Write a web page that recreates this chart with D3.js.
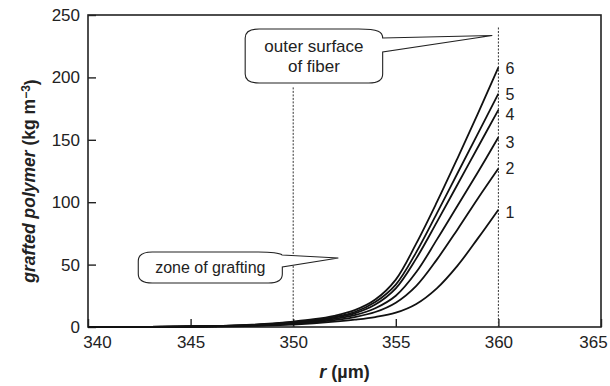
<!DOCTYPE html>
<html>
<head>
<meta charset="utf-8">
<script src="https://cdn.jsdelivr.net/npm/d3@7"></script>
<style>
  body { margin: 0; background: #fff; }
  text { font-family: "Liberation Sans", Arial, sans-serif; fill: #222; }
</style>
</head>
<body>
<div id="chart"></div>
<script>
// data
var rVals = [340, 343, 345, 347, 348, 349, 350, 351, 352, 353, 354, 355, 356, 357, 358, 359, 360];
var curve1 = [0, 0.1, 0.3, 0.6, 0.9, 1.3, 2.0, 3.0, 4.3, 5.9, 8.0, 11.5, 18.5, 31, 49, 71, 94];
var curve2 = [0, 0.1, 0.3, 0.7, 1.1, 1.7, 2.6, 3.8, 5.5, 8.0, 12, 19.5, 33, 54, 78, 103, 127];
var curve3 = [0, 0.1, 0.4, 0.9, 1.3, 2.0, 3.0, 4.4, 6.5, 9.5, 15, 25, 44, 70, 97, 124, 152];
var curve4 = [0, 0.1, 0.4, 1.0, 1.5, 2.3, 3.5, 5.0, 7.5, 11, 18, 31, 55, 84, 114, 144, 174];
var curve5 = [0, 0.1, 0.4, 1.0, 1.6, 2.5, 3.8, 5.5, 8.0, 12, 20, 34, 60, 91, 123, 155, 187];
var curve6 = [0, 0.1, 0.5, 1.1, 1.8, 2.8, 4.3, 6.2, 9.0, 13.5, 22, 38, 67, 100, 135, 171, 208];
var curveNames = ["1", "2", "3", "4", "5", "6"];
var labelVals = [92, 127, 148, 170, 186, 207];
var xTicks = [340, 345, 350, 355, 360, 365];
var yTicks = [0, 50, 100, 150, 200, 250];
var markers = [350, 360];
var markerTops = [192, 240];

var allCurves = [curve1, curve2, curve3, curve4, curve5, curve6];

// set the dimensions and margins of the graph
var margin = {top: 15, right: 9, bottom: 59, left: 88},
    width = 610 - margin.left - margin.right,
    height = 386 - margin.top - margin.bottom;

var svg = d3.select("#chart")
  .append("svg")
    .attr("width", 610)
    .attr("height", 386)
  .append("g")
    .attr("transform", "translate(" + margin.left + "," + margin.top + ")");

var x = d3.scaleLinear().domain([340, 365]).range([0, width]);
var y = d3.scaleLinear().domain([0, 250]).range([height, 0]);

// frame
svg.append("rect")
  .attr("x", 0).attr("y", 0)
  .attr("width", width).attr("height", height)
  .attr("fill", "none")
  .attr("stroke", "#222")
  .attr("stroke-width", 1.6);

// axes, ticks pointing inside
var xAxis = svg.append("g")
  .attr("transform", "translate(0," + height + ")")
  .call(d3.axisBottom(x).tickValues(xTicks).tickSizeInner(-8).tickSizeOuter(0).tickPadding(9));
var yAxis = svg.append("g")
  .call(d3.axisLeft(y).tickValues(yTicks).tickSizeInner(-8).tickSizeOuter(0).tickPadding(8));

[xAxis, yAxis].forEach(function(a) {
  a.select(".domain").remove();
  a.selectAll("line").attr("stroke", "#222").attr("stroke-width", 1.4);
  a.selectAll("text").style("font-size", "17px").style("font-family", "'Liberation Sans', Arial, sans-serif").attr("fill", "#222");
});

// first and last x labels sit a little inward
xAxis.selectAll(".tick text")
  .attr("dx", function(d) { return d === 340 ? 9 : (d === 365 ? -8 : 0); });

// vertical dotted markers
svg.selectAll(".marker")
  .data(markers)
  .enter().append("line")
  .attr("x1", function(d) { return x(d); })
  .attr("x2", function(d) { return x(d); })
  .attr("y1", function(d, i) { return y(markerTops[i]); })
  .attr("y2", height)
  .attr("stroke", "#333")
  .attr("stroke-width", 1)
  .attr("stroke-dasharray", "2,1.5");

// curves
var line = d3.line()
  .x(function(d) { return x(d[0]); })
  .y(function(d) { return y(d[1]); })
  .curve(d3.curveCatmullRom.alpha(0.5));

svg.selectAll(".curve")
  .data(allCurves)
  .enter().append("path")
  .attr("d", function(c) { return line(c.map(function(v, i) { return [rVals[i], v]; })); })
  .attr("fill", "none")
  .attr("stroke", "#111")
  .attr("stroke-width", 1.8);

// curve labels
svg.selectAll(".clabel")
  .data(curveNames)
  .enter().append("text")
  .attr("x", x(360) + 7)
  .attr("y", function(d, i) { return y(labelVals[i]); })
  .attr("dy", "0.35em")
  .style("font-size", "16px")
  .text(function(d) { return d; });

// callout bubble: box in data units, pointer from right side to tip
function callout(b) {
  var x0 = x(b.r0), x1 = x(b.r1), y0 = y(b.v0), y1 = y(b.v1);
  var rx = 14, ry = 9;
  var p0 = y(b.p0), p1 = y(b.p1);
  var tx = x(b.tipR), ty = y(b.tipV);
  var p = d3.path();
  p.moveTo(x0 + rx, y0);
  p.lineTo(x1 - rx - 10, y0);
  p.bezierCurveTo(x1 - 4, y0, x1, y0 + 3, x1, p0);
  p.lineTo(tx, ty);
  p.lineTo(x1, p1);
  p.lineTo(x1, y1 - ry);
  p.quadraticCurveTo(x1, y1, x1 - rx, y1);
  p.lineTo(x0 + rx, y1);
  p.quadraticCurveTo(x0, y1, x0, y1 - ry);
  p.lineTo(x0, y0 + ry);
  p.quadraticCurveTo(x0, y0, x0 + rx, y0);
  p.closePath();
  svg.append("path")
    .attr("d", p.toString())
    .attr("fill", "#fff")
    .attr("stroke", "#222")
    .attr("stroke-width", 1.1);
  var t = svg.append("text")
    .attr("text-anchor", "middle")
    .style("font-size", b.size + "px");
  b.lines.forEach(function(s, i) {
    t.append("tspan")
      .attr("x", (x0 + x1) / 2)
      .attr("y", (y0 + y1) / 2 + (i - (b.lines.length - 1) / 2) * 20)
      .attr("dy", "0.35em")
      .text(s);
  });
}

callout({r0: 347.66, r1: 354.36, v0: 238.8, v1: 195.5, p0: 231.6, p1: 220.4,
         tipR: 359.7, tipV: 233.6, size: 17, lines: ["outer surface", "of fiber"]});
callout({r0: 342.45, r1: 349.47, v0: 60.1, v1: 35.3, p0: 57.7, p1: 48.1,
         tipR: 352.2, tipV: 55.3, size: 16, lines: ["zone of grafting"]});

// axis titles
var xt = svg.append("text")
  .attr("x", width / 2)
  .attr("y", height + 51)
  .attr("text-anchor", "middle")
  .style("font-size", "18px")
  .style("font-weight", "bold");
xt.append("tspan").style("font-style", "italic").text("r");
xt.append("tspan").text(" (µm)");

var yt = svg.append("text")
  .attr("transform", "rotate(-90)")
  .attr("x", -height / 2 - 10)
  .attr("y", -53)
  .attr("text-anchor", "middle")
  .style("font-size", "17.5px")
  .style("font-weight", "bold");
yt.append("tspan").style("font-style", "italic").text("grafted polymer");
yt.append("tspan").text(" (kg m");
yt.append("tspan").attr("dy", "-0.45em").style("font-size", "12px").text("−3");
yt.append("tspan").attr("dy", "0.45em").text(")");
</script>
</body>
</html>
